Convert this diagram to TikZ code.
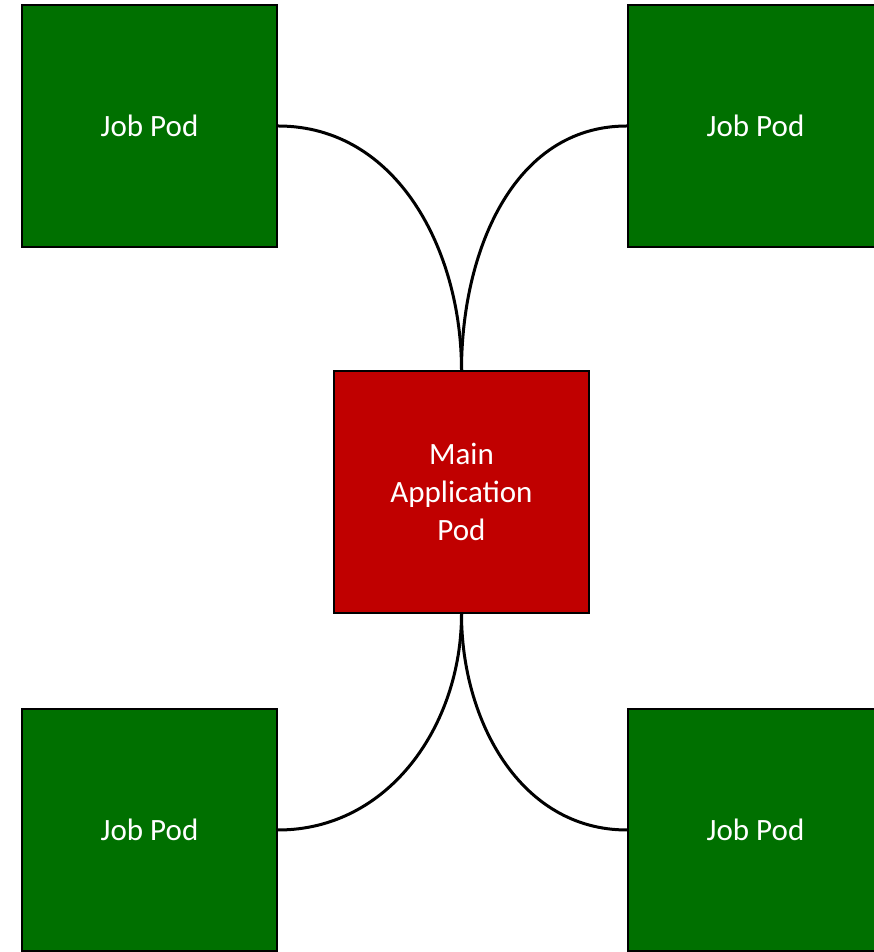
\documentclass[tikz,border=0pt]{standalone}
\usepackage{fontspec}
\setmainfont{Carlito}
\definecolor{podgreen}{HTML}{007000}
\definecolor{podred}{HTML}{C00000}
\begin{document}
\begin{tikzpicture}[x=1pt,y=1pt,
  pod/.style={draw=black, line width=2pt, minimum width=255pt, minimum height=242pt,
    inner sep=0pt, text=white, align=center, font=\fontsize{31}{38}\selectfont},
  jobpod/.style={pod, fill=podgreen},
  mainpod/.style={pod, fill=podred},
  link/.style={draw=black, line width=3pt}]
\useasboundingbox (0,0) rectangle (874,952);
\node[jobpod] (tl) at (149.5,826) {Job Pod};
\node[jobpod] (tr) at (755.5,826) {Job Pod};
\node[mainpod] (main) at (461.5,460) {Main\\Application\\Pod};
\node[jobpod] (bl) at (149.5,122) {Job Pod};
\node[jobpod] (br) at (755.5,122) {Job Pod};
\draw[link] (tl.east) to[out=0,in=90] (main.north);
\draw[link] (tr.west) to[out=180,in=90] (main.north);
\draw[link] (bl.east) to[out=0,in=-90] (main.south);
\draw[link] (br.west) to[out=180,in=-90] (main.south);
\end{tikzpicture}
\end{document}
